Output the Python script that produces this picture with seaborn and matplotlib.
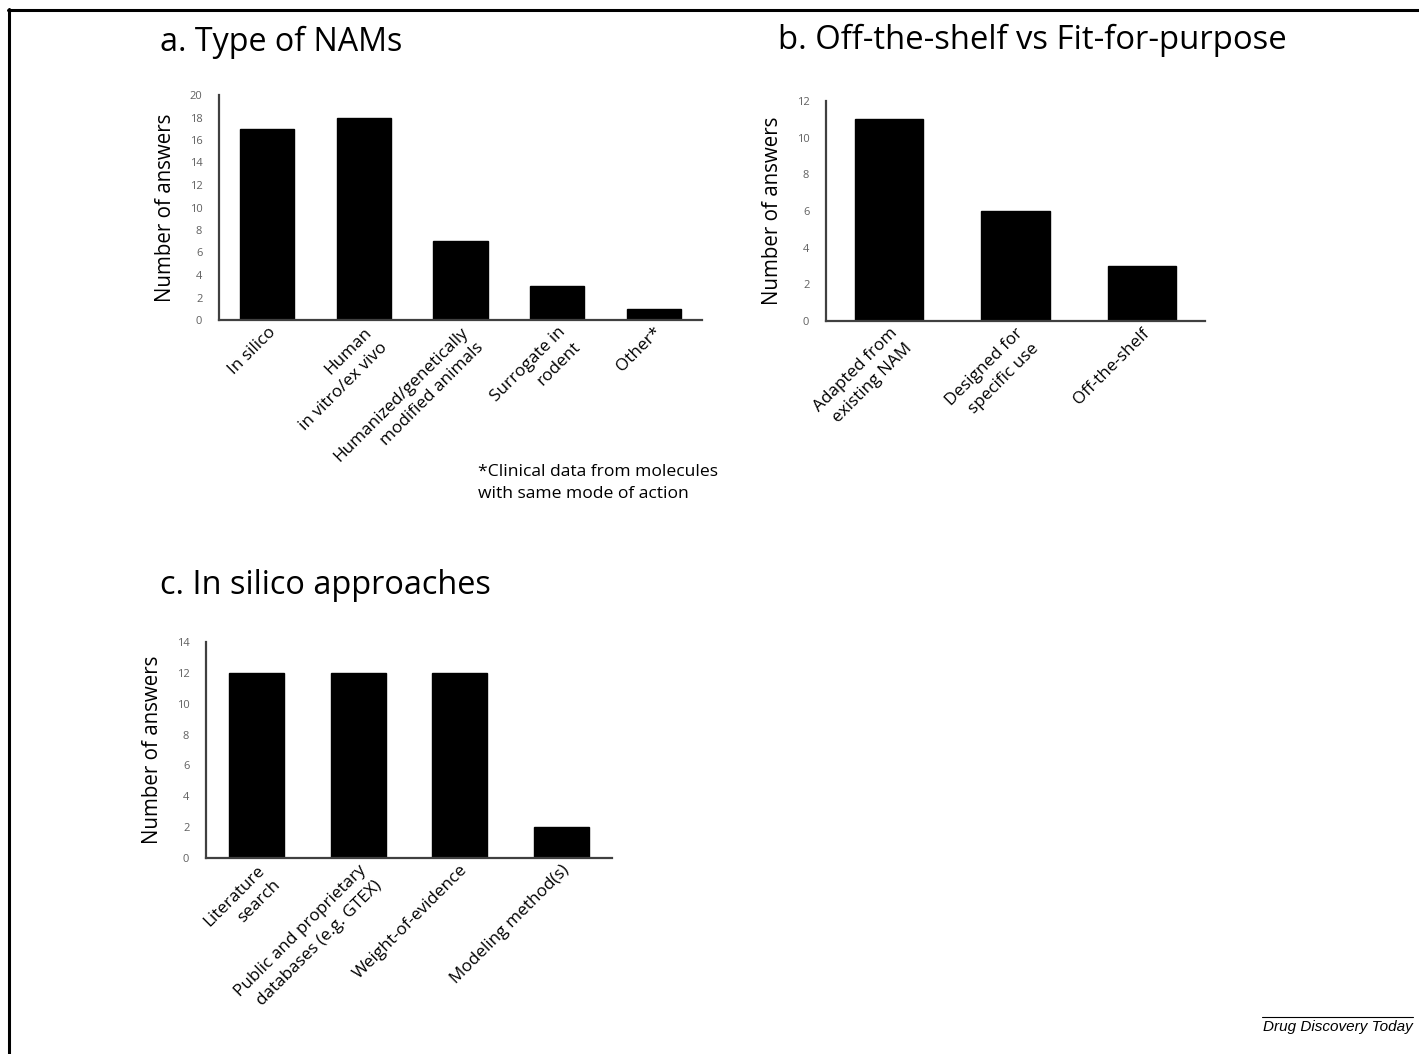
import matplotlib
matplotlib.use("Agg")
import matplotlib.pyplot as plt
import seaborn as sns
import pandas as pd
from matplotlib.lines import Line2D

# Survey answers
nam_types = ["In silico", "Human\nin vitro/ex vivo", "Humanized/genetically\nmodified animals",
             "Surrogate in\nrodent", "Other*"]
nam_counts = [17, 18, 7, 3, 1]

origin_types = ["Adapted from\nexisting NAM", "Designed for\nspecific use", "Off-the-shelf"]
origin_counts = [11, 6, 3]

silico_types = ["Literature\nsearch", "Public and proprietary\ndatabases (e.g. GTEX)",
                "Weight-of-evidence", "Modeling method(s)"]
silico_counts = [12, 12, 12, 2]

W, H = 1419, 1054
sns.set_theme(style="white")
plt.rcParams["font.family"] = ["Open Sans", "DejaVu Sans"]
plt.rcParams["text.color"] = "black"
plt.rcParams["axes.labelcolor"] = "black"
plt.rcParams["xtick.color"] = "black"

fig = plt.figure(figsize=(W / 100, H / 100), dpi=100)


def px_axes(left, top, right, bottom):
    return fig.add_axes([left / W, 1 - bottom / H, (right - left) / W, (bottom - top) / H])


def panel(ax, cats, vals, ymax, ystep, width):
    df = pd.DataFrame({"cat": cats, "val": vals})
    sns.barplot(data=df, x="cat", y="val", color="black", width=width, ax=ax,
                saturation=1, edgecolor="black")
    ax.set_ylim(0, ymax)
    ax.set_yticks(range(0, ymax + 1, ystep))
    ax.set_xlim(-0.5, len(cats) - 0.5)
    for s in ["top", "right"]:
        ax.spines[s].set_visible(False)
    for s in ["left", "bottom"]:
        ax.spines[s].set_color("#404040")
        ax.spines[s].set_linewidth(1.6)
    ax.tick_params(axis="y", length=0, labelsize=8, labelcolor="#606060", pad=12)
    ax.tick_params(axis="x", length=0, pad=3)
    ax.set_xlabel("")
    ax.set_ylabel("Number of answers", fontsize=14.8, color="black", labelpad=10)
    ax.set_xticks(range(len(cats)))
    ax.set_xticklabels(cats, rotation=45, ha="right", va="top", rotation_mode="anchor",
                       fontsize=12.3, multialignment="right", linespacing=1.45)


ax_a = px_axes(219, 95, 702, 320)
panel(ax_a, nam_types, nam_counts, 20, 2, 0.56)
ax_b = px_axes(826, 101, 1205, 321)
panel(ax_b, origin_types, origin_counts, 12, 2, 0.54)
ax_c = px_axes(206, 642, 612, 858)
panel(ax_c, silico_types, silico_counts, 14, 2, 0.54)

# Panel titles
fig.text(160 / W, 1 - 42 / H, "a. Type of NAMs", fontsize=23.2, va="center", ha="left")
fig.text(778 / W, 1 - 40 / H, "b. Off-the-shelf vs Fit-for-purpose", fontsize=23.7,
         va="center", ha="left")
fig.text(160 / W, 1 - 585 / H, "c. In silico approaches", fontsize=23.4, va="center", ha="left")

# Footnote for "Other*"
fig.text(478 / W, 1 - 483 / H, "*Clinical data from molecules\nwith same mode of action",
         fontsize=12.6, va="center", ha="left", linespacing=1.45)

# Outer frame (top and left edges)
fig.add_artist(Line2D([8.5 / W, 8.5 / W], [0, 1 - 9 / H], color="black", lw=2.2,
                      transform=fig.transFigure))
fig.add_artist(Line2D([8 / W, 1], [1 - 9.5 / H, 1 - 9.5 / H], color="black", lw=2.2,
                      transform=fig.transFigure))

# Journal credit
fig.add_artist(Line2D([1262 / W, 1413 / W], [1 - 1017 / H, 1 - 1017 / H], color="black", lw=0.8,
                      transform=fig.transFigure))
fig.text(1413 / W, 1 - 1027 / H, "Drug Discovery Today", fontsize=11, style="italic",
         family="Liberation Sans", ha="right", va="center")

fig.savefig("out.png", dpi=100, facecolor="white")
